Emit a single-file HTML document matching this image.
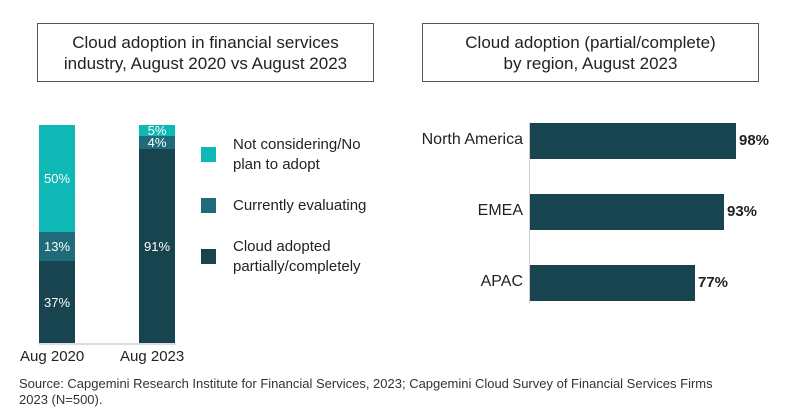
<!DOCTYPE html>
<html><head><meta charset="utf-8"><style>
body{margin:0;width:797px;height:420px;background:#fff;position:relative;overflow:hidden;font-family:"Liberation Sans",sans-serif;color:#222}
.box{position:absolute;border:1.5px solid #555;top:23px;height:59px;box-sizing:border-box;text-align:center;font-size:17px;line-height:21px;padding-top:8px;color:#222}
.a{position:absolute}
.seg{position:absolute;color:#fff;font-size:13px;text-align:center;display:flex;align-items:center;justify-content:center}
.lg{position:absolute;left:201px;width:15px;height:15px}
.lt{position:absolute;left:233px;font-size:15px;line-height:20px;color:#222}
.lab{position:absolute;right:274px;font-size:16px;text-align:right}
.bar{position:absolute;left:530px;height:36px;background:#17444e}
.val{position:absolute;font-size:15px;font-weight:bold}
</style></head><body>
<div class="box" style="left:37px;width:337px">Cloud adoption in financial services<br>industry, August 2020 vs August 2023</div>
<div class="box" style="left:422px;width:337px">Cloud adoption (partial/complete)<br>by region, August 2023</div>

<div class="a" style="left:39px;top:343px;width:137px;height:2px;background:#ddd"></div>
<div class="seg" style="left:39px;top:125px;width:36px;height:107px;background:#0fb8b4">50%</div>
<div class="seg" style="left:39px;top:232px;width:36px;height:29px;background:#1f6b7a">13%</div>
<div class="seg" style="left:39px;top:261px;width:36px;height:82px;background:#17444e">37%</div>
<div class="seg" style="left:139px;top:125px;width:36px;height:11px;background:#0fb8b4">5%</div>
<div class="seg" style="left:139px;top:136px;width:36px;height:13px;background:#1f6b7a">4%</div>
<div class="seg" style="left:139px;top:149px;width:36px;height:194px;background:#17444e">91%</div>
<div class="a" style="left:20px;top:348px;font-size:15px">Aug 2020</div>
<div class="a" style="left:120px;top:348px;font-size:15px">Aug 2023</div>

<div class="lg" style="top:147px;background:#0fb8b4"></div>
<div class="lt" style="top:135px">Not considering/No<br>plan to adopt</div>
<div class="lg" style="top:198px;background:#1f6b7a"></div>
<div class="lt" style="top:196px">Currently evaluating</div>
<div class="lg" style="top:249px;background:#17444e"></div>
<div class="lt" style="top:237px">Cloud adopted<br>partially/completely</div>

<div class="a" style="left:529px;top:122px;width:1px;height:181px;background:#ccc"></div>
<div class="lab" style="top:131px">North America</div>
<div class="lab" style="top:202px">EMEA</div>
<div class="lab" style="top:273px">APAC</div>
<div class="bar" style="top:123px;width:206px"></div>
<div class="bar" style="top:194px;width:194px"></div>
<div class="bar" style="top:265px;width:165px"></div>
<div class="val" style="left:739px;top:132px">98%</div>
<div class="val" style="left:727px;top:203px">93%</div>
<div class="val" style="left:698px;top:274px">77%</div>

<div class="a" style="left:19px;top:376px;font-size:13px;line-height:16px;color:#333;width:705px">Source: Capgemini Research Institute for Financial Services, 2023; Capgemini Cloud Survey of Financial Services Firms 2023 (N=500).</div>
</body></html>
